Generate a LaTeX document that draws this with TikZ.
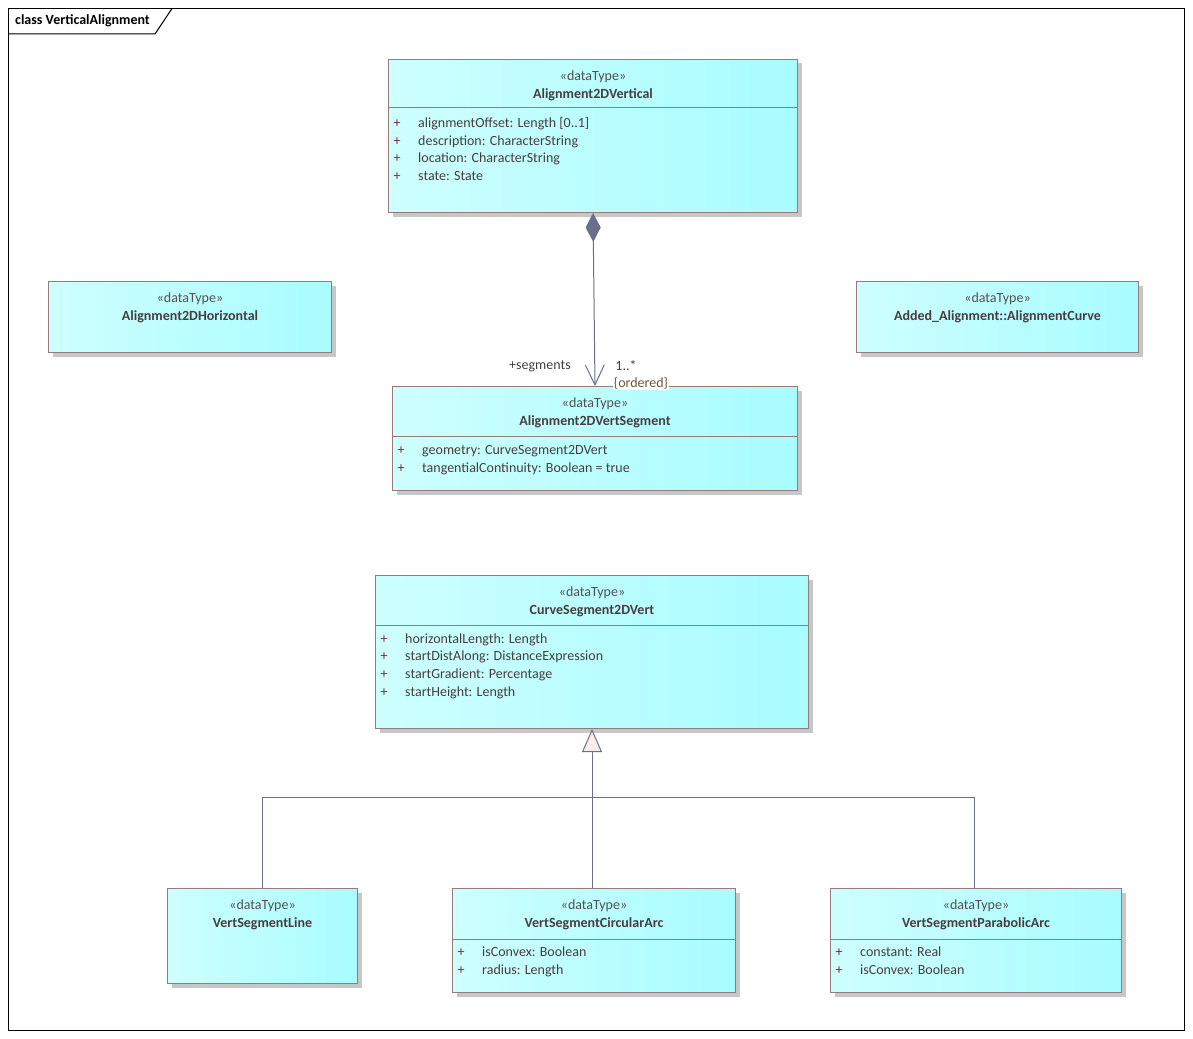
\documentclass[tikz,border=0pt]{standalone}
\usepackage{fontspec}
\setmainfont{Carlito}
\usetikzlibrary{arrows.meta,shadows,calc}
\definecolor{bord}{RGB}{152,122,122}
\definecolor{cl}{RGB}{206,255,255}
\definecolor{cr}{RGB}{168,252,255}
\definecolor{conn}{RGB}{104,112,140}
\definecolor{txt}{RGB}{70,62,62}
\definecolor{stcol}{RGB}{85,80,80}
\definecolor{pluscol}{RGB}{120,40,60}
\definecolor{ordcol}{RGB}{110,85,65}
\definecolor{genfill}{RGB}{248,238,234}
\newcommand\dfont{\fontsize{14}{16}\selectfont}
\tikzset{
  cls/.style={draw=bord, line width=1pt, left color=cl, right color=cr,
    drop shadow={shadow xshift=4pt, shadow yshift=-4pt, opacity=1, fill=black!22},
    anchor=north west, inner sep=0pt},
  stereo/.style={anchor=mid, inner sep=0pt, text=stcol},
  cname/.style={anchor=mid, inner sep=0pt, text=txt, font=\dfont\bfseries},
  plus/.style={anchor=mid, inner sep=0pt, text=pluscol},
  attr/.style={anchor=mid west, inner sep=0pt, text=txt},
  sepline/.style={draw=bord, line width=1pt},
  lbl/.style={anchor=mid, inner sep=0pt, text=txt},
  conline/.style={draw=conn, line width=1pt},
}
\newcommand\clshead[2]{%
  \node[stereo] (#1-st) at ([yshift=-19pt]#1.north) {«dataType»};
  \node[cname] (#1-nm) at ([yshift=-37pt]#1.north) {#2};}
\newcommand\clssep[2]{%
  \draw[sepline] ([yshift=-#2pt]#1.north west) -- ([yshift=-#2pt]#1.north east);}
\newcommand\attrline[4]{%
  \node[plus] (#1-p#2) at ([xshift=9pt,yshift=-#3pt-2pt]#1.north west) {+};
  \node[attr] (#1-a#2) at ([xshift=30pt,yshift=-#3pt-2pt]#1.north west) {#4};}
\begin{document}
\begin{tikzpicture}[x=1pt,y=-1pt,font=\dfont]
\useasboundingbox (0,0) rectangle (1193,1038);
% frame
\draw[black, line width=1pt] (8.5,8.5) rectangle (1184.5,1030.5);
\draw[black, line width=1pt] (8.5,34) -- (155,34) -- (172,8.5);
\node[anchor=mid west, inner sep=0pt, font=\dfont\bfseries] (title) at (15,22) {class VerticalAlignment};

% Alignment2DVertical
\node[cls, minimum width=409pt, minimum height=153pt] (av) at (388,59) {};
\clshead{av}{Alignment2DVertical}
\clssep{av}{49}
\attrline{av}{1}{64}{alignmentOffset: Length [0..1]}
\attrline{av}{2}{82}{description: CharacterString}
\attrline{av}{3}{99}{location: CharacterString}
\attrline{av}{4}{117}{state: State}

% Alignment2DHorizontal
\node[cls, minimum width=283pt, minimum height=71pt] (ah) at (48,281) {};
\clshead{ah}{Alignment2DHorizontal}

% AlignmentCurve
\node[cls, minimum width=282pt, minimum height=71pt] (ac) at (856,281) {};
\clshead{ac}{Added\_Alignment::AlignmentCurve}

% Alignment2DVertSegment
\node[cls, minimum width=405pt, minimum height=104pt] (avs) at (392,386) {};
\clshead{avs}{Alignment2DVertSegment}
\clssep{avs}{50}
\attrline{avs}{1}{64}{geometry: CurveSegment2DVert}
\attrline{avs}{2}{82}{tangentialContinuity: Boolean = true}

% CurveSegment2DVert
\node[cls, minimum width=433pt, minimum height=153pt] (cs) at (375,575) {};
\clshead{cs}{CurveSegment2DVert}
\clssep{cs}{50}
\attrline{cs}{1}{64}{horizontalLength: Length}
\attrline{cs}{2}{81}{startDistAlong: DistanceExpression}
\attrline{cs}{3}{99}{startGradient: Percentage}
\attrline{cs}{4}{117}{startHeight: Length}

% VertSegmentLine
\node[cls, minimum width=190pt, minimum height=95pt] (vl) at (167,888) {};
\clshead{vl}{VertSegmentLine}

% VertSegmentCircularArc
\node[cls, minimum width=283pt, minimum height=104pt] (vc) at (452,888) {};
\clshead{vc}{VertSegmentCircularArc}
\clssep{vc}{51}
\attrline{vc}{1}{64}{isConvex: Boolean}
\attrline{vc}{2}{82}{radius: Length}

% VertSegmentParabolicArc
\node[cls, minimum width=291pt, minimum height=104pt] (vp) at (830,888) {};
\clshead{vp}{VertSegmentParabolicArc}
\clssep{vp}{51}
\attrline{vp}{1}{64}{constant: Real}
\attrline{vp}{2}{82}{isConvex: Boolean}

% composition
\draw[conline, {Diamond[length=29pt,width=15pt,fill=conn]}-{Straight Barb[length=20pt,width=19pt,line width=1pt]}]
  (av.south) -- (avs.north);
\node[lbl] (segl) at (540,367) {+segments};
\node[lbl] (mult) at (626,368) {1..*};
\node[anchor=mid, inner sep=1pt, fill=white, text=ordcol] (ord) at (641,385) {\{ordered\}};

% generalization
\coordinate (j) at (592,797);
\coordinate (vpt) at (974,888);
\draw[conline] (vl.north) |- (j);
\draw[conline] (vpt) |- (j);
\draw[conline, -{Triangle[length=23pt,width=20pt,fill=genfill,line width=1pt]}]
  (cs.south |- vc.north) -- (cs.south);
\end{tikzpicture}
\end{document}
